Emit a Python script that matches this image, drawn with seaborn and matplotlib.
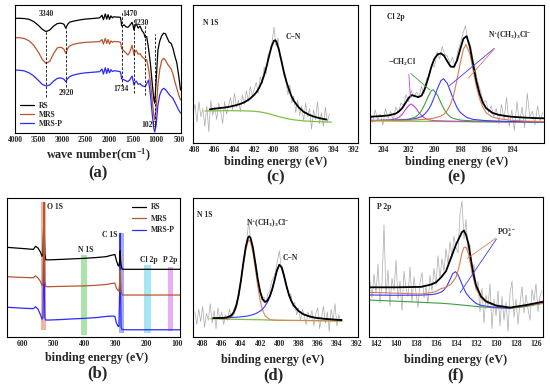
import numpy as np
import pandas as pd
import matplotlib
matplotlib.use("Agg")
import matplotlib.pyplot as plt
import seaborn as sns

# ---------------- (a) FTIR ----------------
a_wn = [4000, 3900, 3800, 3700, 3600, 3500, 3420, 3340, 3260, 3180,
        3100, 3020, 2960, 2920, 2880, 2840, 2780, 2700, 2600, 2500,
        2400, 2300, 2200, 2150, 2120, 2080, 2050, 2020, 1990, 1960,
        1930, 1900, 1850, 1800, 1760, 1745, 1734, 1720, 1680, 1640,
        1600, 1560, 1510, 1490, 1470, 1440, 1420, 1380, 1340, 1300,
        1260, 1230, 1200, 1160, 1120, 1080, 1050, 1029, 1000, 960,
        920, 880, 840, 800, 760, 720, 680, 640, 600, 560,
        520, 480]
a_rs = [89.6, 89.6, 89.4, 88.8, 87.0, 84.0, 81.0, 79.2, 80.5, 83.5,
        85.5, 85.8, 85.0, 81.8, 85.0, 86.5, 87.2, 87.8, 88.5, 89.0,
        89.3, 89.6, 90.0, 92.0, 88.5, 93.0, 89.0, 92.5, 88.8, 91.5,
        90.0, 90.8, 90.6, 90.5, 90.4, 88.0, 84.0, 83.5, 84.5, 83.0,
        82.5, 84.0, 86.5, 84.0, 80.5, 84.5, 85.0, 82.0, 83.5, 80.0,
        78.0, 74.5, 75.5, 66.0, 54.0, 38.0, 27.0, 23.2, 40.0, 65.0,
        72.0, 76.0, 78.0, 77.5, 74.0, 71.0, 70.0, 66.0, 60.0, 55.0,
        45.0, 33.6]
a_mrs = [74.5, 74.4, 73.8, 72.0, 68.5, 63.0, 57.5, 54.4, 56.0, 62.0,
         66.5, 67.0, 65.5, 62.2, 66.0, 68.0, 69.0, 69.8, 70.4, 70.8,
         71.0, 71.2, 71.4, 73.0, 69.5, 74.0, 70.0, 73.0, 69.5, 72.0,
         70.8, 71.5, 71.4, 71.2, 71.0, 69.0, 66.1, 65.5, 64.0, 62.5,
         61.0, 63.0, 68.5, 65.0, 61.0, 64.0, 64.5, 61.5, 62.0, 59.5,
         58.5, 57.0, 57.5, 50.0, 40.0, 25.0, 14.0, 10.2, 18.0, 38.0,
         50.0, 56.5, 58.3, 57.0, 54.0, 52.0, 50.0, 46.0, 40.0, 35.0,
         30.0, 25.8]
a_mrsp = [49.2, 49.0, 48.5, 47.0, 44.5, 41.0, 38.0, 36.7, 37.5, 40.5,
          42.7, 43.0, 42.0, 40.1, 42.5, 44.0, 45.0, 45.8, 46.5, 47.0,
          47.3, 47.6, 47.9, 50.0, 46.0, 51.0, 46.5, 50.5, 47.0, 49.5,
          48.0, 48.6, 48.5, 48.2, 47.8, 45.5, 42.5, 42.0, 41.5, 40.8,
          40.1, 41.5, 44.5, 41.0, 37.5, 40.0, 40.5, 38.0, 38.5, 37.0,
          36.5, 36.2, 38.5, 41.4, 30.0, 14.0, 4.0, 0.8, 6.0, 22.0,
          30.0, 33.5, 34.9, 34.0, 32.0, 30.0, 28.5, 27.0, 24.0, 21.0,
          18.0, 15.6]
a_marks = [3340, 2920, 1734, 1470, 1230, 1029]
a_mark_top = [80, 82, 95, 90, 84, 77]
a_mark_bot = [28, 36, 37, 31, 30, 5]
a_lab_x = [3340, 2900, 1740, 1548, 1313, 1143]
a_lab_y = [93, 31.5, 34, 93, 86, 6]

# ---------------- (b) XPS survey ----------------
b_ev = [650, 620, 590, 565, 558, 550, 542, 537, 534, 532, 531, 530, 528, 525,
        515, 480, 440, 400, 360, 330, 310, 302, 297, 292, 289, 286, 285, 284,
        282, 279, 270, 240, 200, 160, 130, 92]
b_rs = [64.5, 64.0, 63.5, 63.0, 65.3, 64.0, 61.0, 58.0, 60.0, 78.0, 90.0, 78.0, 60.0, 55.5,
        55.5, 55.8, 56.2, 56.6, 57.2, 57.8, 59.0, 59.3, 55.0, 51.5, 51.0, 56.0, 62.0, 56.0,
        52.0, 48.8, 48.7, 48.7, 48.7, 48.7, 48.7, 48.7]
b_mrs = [43.4, 43.0, 42.8, 42.6, 44.0, 42.5, 40.0, 37.0, 39.0, 75.0, 97.0, 75.0, 40.0, 36.2,
         36.2, 36.4, 36.6, 36.8, 37.2, 37.8, 38.6, 38.8, 35.0, 33.6, 33.0, 40.0, 48.0, 40.0,
         33.0, 30.3, 30.2, 30.2, 30.2, 30.2, 30.2, 30.2]
b_mrsp = [21.4, 21.0, 20.6, 20.4, 21.8, 20.0, 16.0, 12.8, 14.0, 50.0, 80.0, 50.0, 14.0, 12.2,
          12.2, 12.5, 13.0, 13.4, 14.0, 14.8, 15.1, 14.8, 10.0, 7.8, 7.5, 40.0, 74.6, 40.0,
          7.0, 5.4, 5.2, 5.2, 5.2, 5.2, 5.2, 5.2]
b_band_names = ['O 1S', 'N 1S', 'C 1S', 'Cl 2p', 'P 2p']
b_band_lo = [525, 392, 273, 186, 115]
b_band_hi = [540, 411, 289, 208, 130]
b_band_top = [0.974, 0.59, 0.746, 0.518, 0.506]
b_band_bot = [0.052, 0.014, 0.029, 0.029, 0.041]
b_band_col = ['#ee9c86', '#8fdc8f', '#8f8ff0', '#86e0ee', '#e295f0']
b_lab_x = [521, 421, 344, 221, 147]
b_lab_y = [93.5, 62.6, 73.4, 55.4, 55.4]

# ---------------- (c) N 1s, MRS ----------------
c_raw = [22, 28, 15, 30, 19, 25, 12, 27, 8, 31,
         20, 26, 17, 29, 23, 14, 30, 21, 27, 33,
         24, 36, 26, 31, 23, 35, 28, 38, 30, 41,
         34, 39, 44, 36, 48, 43, 55, 50, 64, 66,
         73, 84, 70, 76, 62, 60, 49, 47, 35, 42,
         29, 34, 22, 31, 20, 27, 16, 29, 19, 25,
         10, 24, 17, 30, 14, 22, 12, 26, 15, 21]
c_fit_x = [406.5, 406, 405.5, 405, 404.5, 404, 403.5, 403, 402.5, 402, 401.75, 401.5,
           401.25, 401, 400.75, 400.5, 400.25, 400, 399.85, 399.75, 399.5, 399.25, 399,
           398.75, 398.5, 398.25, 398, 397.5, 397, 396.5, 396, 395.5, 395, 394.7]
c_fit_y = [24.4, 24.9, 25.3, 25.7, 26.3, 27.1, 28.1, 29.5, 31.7, 34.9, 37.1, 40.1,
           44.0, 49.2, 55.6, 63.0, 70.0, 74.2, 74.4, 73.2, 67.5, 59.4, 51.4,
           44.5, 39.0, 34.2, 30.6, 25.8, 22.6, 20.6, 19.2, 18.2, 17.4, 17.0]
c_base_x = [407, 406, 405, 404, 403, 402, 401.5, 401, 400.5, 400, 399.5, 399, 398.5,
            398, 397, 396, 395, 394.2]
c_base_y = [23.2, 23.3, 23.4, 23.4, 23.3, 23.0, 22.6, 22.0, 21.1, 20.1, 19.1, 18.2, 17.4,
            16.8, 16.0, 15.6, 15.3, 15.1]

# ---------------- (d) N 1s, MRS-P ----------------
d_raw = [18, 9, 20, 11, 22, 7, 17, 12, 24, 10,
         19, 6, 21, 13, 18, 9, 16, 12, 20, 14,
         18, 22, 25, 34, 40, 52, 60, 69, 83, 70,
         66, 55, 52, 37, 33, 27, 29, 24, 31, 33,
         40, 43, 47, 55, 62, 50, 48, 41, 36, 29,
         31, 22, 25, 16, 21, 12, 20, 15, 9, 18,
         13, 19, 8, 17, 21, 6, 14, 22, 10, 18,
         4, 20, 12, 24, 8, 16, 11]
d_fit_x = [406.9, 406, 405.5, 405, 404.75, 404.5, 404.25, 404, 403.75, 403.5, 403.25,
           403.15, 403, 402.75, 402.5, 402.25, 402, 401.75, 401.5, 401.25, 401, 400.75,
           400.5, 400.25, 400, 399.75, 399.5, 399.25, 399, 398.75, 398.5, 398, 397.5,
           397, 396.5, 396, 395, 394, 393.5]
d_fit_y = [13.6, 13.7, 14.0, 15.5, 17.9, 22.3, 30.1, 40.9, 53.5, 64.9, 71.7,
           72.4, 71.3, 64.2, 53.1, 41.6, 32.6, 27.2, 25.2, 26.1, 29.2, 34.2,
           40.9, 47.9, 52.0, 50.0, 43.7, 36.5, 30.4, 25.9, 22.7, 18.7, 16.4,
           15.1, 14.2, 13.6, 12.9, 12.4, 12.2]
d_n_x = [406, 405.5, 405, 404.75, 404.5, 404.25, 404, 403.75, 403.5, 403.25, 403.15,
         403, 402.75, 402.5, 402.25, 402, 401.75, 401.5, 401, 400.5, 399, 397, 395, 393.5]
d_n_y = [12.9, 13.0, 14.3, 16.5, 20.9, 28.5, 39.1, 51.5, 62.6, 69.0, 69.6,
         68.2, 60.6, 48.9, 36.5, 26.4, 19.5, 15.4, 12.6, 12.1, 11.95, 11.8, 11.65, 11.5]
d_cn_x = [406.5, 406, 405, 404, 403.5, 403, 402.5, 402, 401.75, 401.5, 401.25, 401,
          400.75, 400.5, 400.25, 400, 399.75, 399.5, 399.25, 399, 398.75, 398.5, 398,
          397.5, 397, 396.5, 396, 395, 394, 393.5]
d_cn_y = [13.6, 13.7, 14.0, 14.5, 14.9, 15.6, 16.7, 18.6, 20.0, 22.1, 24.9, 28.8,
          34.1, 40.9, 47.9, 52.0, 50.0, 43.7, 36.5, 30.4, 25.9, 22.7, 18.7,
          16.4, 15.1, 14.2, 13.6, 12.9, 12.4, 12.2]
d_base_x = [407.2, 406, 404, 402, 400, 398, 396, 394, 393.5]
d_base_y = [13.1, 12.9, 12.65, 12.4, 12.0, 11.9, 11.8, 11.6, 11.5]

# ---------------- (e) Cl 2p ----------------
e_raw = [22, 15, 24, 17, 21, 13, 25, 18, 23, 16,
         26, 22, 29, 27, 35, 30, 38, 33, 37, 34,
         41, 36, 47, 48, 57, 55, 66, 61, 70, 64,
         63, 58, 62, 55, 66, 72, 79, 85, 74, 71,
         60, 52, 43, 37, 29, 31, 22, 27, 19, 25,
         14, 28, 17, 33, 12, 24, 9, 30, 15, 26,
         11, 36, 19, 23, 13, 27, 16, 22]
e_fit_x = [205, 204, 203.5, 203, 202.75, 202.5, 202.25, 202, 201.75, 201.5, 201.25, 201,
           200.75, 200.5, 200.25, 200, 199.75, 199.5, 199.25, 199, 198.75, 198.5, 198.25,
           198, 197.75, 197.5, 197.25, 197, 196.75, 196.5, 196.25, 196, 195.5, 195, 194.5,
           194, 193, 192, 191.5]
e_fit_y = [19.0, 19.6, 20.1, 21.3, 22.9, 25.3, 28.9, 32.7, 34.7, 34.0, 33.2, 34.3,
           39.2, 46.5, 54.9, 61.2, 64.2, 65.0, 63.2, 59.1, 55.4, 55.1, 59.7,
           68.0, 75.7, 77.4, 69.6, 57.2, 45.0, 35.8, 29.4, 25.3, 21.8, 20.4, 19.6,
           19.0, 18.4, 18.0, 17.9]
e_r_x = [205, 203, 202, 201, 200.5, 200, 199.5, 199.25, 199, 198.75, 198.5, 198.25, 198,
         197.75, 197.55, 197.25, 197, 196.75, 196.5, 196.25, 196, 195.5, 195, 194, 193, 191.5]
e_r_y = [16.3, 16.4, 16.5, 17.0, 17.4, 18.1, 19.5, 21.0, 23.7, 28.1, 35.1, 45.8, 57.9,
         68.1, 71.4, 64.6, 52.9, 41.1, 32.2, 26.0, 22.0, 18.8, 17.6, 16.4, 15.9, 15.5]
e_b_x = [205, 203, 202, 201.5, 201, 200.75, 200.5, 200.25, 200, 199.75, 199.5, 199.3, 199,
         198.75, 198.5, 198.25, 198, 197.5, 197, 196, 195, 193, 191.5]
e_b_y = [16.3, 16.6, 17.0, 17.6, 19.1, 21.0, 23.8, 27.8, 33.6, 39.8, 45.1, 46.6, 43.2,
         37.2, 31.0, 25.7, 22.2, 18.5, 17.1, 16.2, 15.8, 15.4, 15.3]
e_g_x = [205, 203, 202, 201.5, 201.25, 201, 200.75, 200.5, 200.25, 200.1, 199.75, 199.5,
         199.25, 199, 198.75, 198.5, 198, 197, 195, 191.5]
e_g_y = [16.2, 16.6, 17.3, 18.7, 20.5, 23.5, 28.1, 33.4, 37.9, 38.6, 34.5, 29.2,
         24.5, 21.0, 18.8, 17.7, 16.6, 16.0, 15.6, 15.2]
e_m_x = [205, 204, 203.5, 203, 202.75, 202.5, 202.25, 202, 201.8, 201.5, 201.25, 201,
         200.75, 200.5, 200, 199, 197, 191.5]
e_m_y = [16.2, 16.4, 16.6, 17.5, 18.7, 20.8, 24.1, 27.2, 28.3, 26.0, 22.6, 19.8,
         18.0, 16.9, 16.2, 15.9, 15.5, 15.1]
e_base_x = [205, 191.5]
e_base_y = [16.0, 15.0]

# ---------------- (f) P 2p ----------------
f_raw = [40, 28, 45, 31, 52, 24, 38, 80, 30, 48,
         22, 42, 33, 55, 27, 40, 19, 47, 35, 29,
         50, 25, 43, 31, 21, 39, 46, 28, 36, 24,
         44, 33, 49, 37, 58, 42, 56, 47, 63, 52,
         68, 57, 72, 64, 60, 88, 97, 70, 84, 62,
         66, 45, 52, 33, 40, 18, 35, 10, 30, 22,
         38, 6, 27, 15, 33, 8, 29, 12, 25, 4,
         31, 40, 14, 27, 9, 24, 36, 17, 30, 20,
         12, 34, 26, 38, 18, 29, 33]
f_fit_x = [142.7, 140, 137.5, 136.5, 136, 135.5, 135, 134.5, 134, 133.7, 133.4, 133.2,
           133, 132.75, 132.5, 132.25, 132, 131.5, 131, 130, 128.6, 127, 125.3]
f_fit_y = [35.5, 35.5, 35.8, 37.5, 39.0, 42.5, 47.0, 56.5, 66.0, 70.5, 75.0, 76.0,
           73.0, 66.5, 55.0, 45.0, 37.0, 29.0, 25.5, 22.5, 21.0, 22.8, 25.2]
f_pa_y = [31.9, 31.3, 30.7, 31.7, 32.5, 34.6, 35.5, 37.8, 42.7, 50.0, 60.1, 64.0,
          64.1, 59.7, 50.2, 41.5, 34.9, 27.9, 24.8, 22.2, 20.9, 22.2, 24.2]
f_pb_x = [142.7, 140, 137.5, 136.5, 136, 135.5, 135.2, 134.9, 134.6, 134.35, 134.05, 133.8,
          133.5, 133.3, 133, 132.6, 132, 131.5, 130.5, 129.5, 128.6, 127, 125.3]
f_pb_y = [30.0, 29.8, 29.9, 30.3, 30.8, 32.0, 33.6, 36.5, 41.0, 45.0, 46.7, 44.5,
          39.5, 35.9, 31.5, 27.8, 24.0, 22.6, 21.5, 20.9, 20.6, 22.4, 25.0]
f_base_x = [142.7, 140, 137.5, 135.5, 134.5, 133.5, 132.5, 131.5, 130, 128.6, 127, 125.3]
f_base_y = [26.4, 25.6, 24.8, 24.1, 23.6, 22.9, 22.2, 21.5, 20.9, 20.5, 21.8, 24.0]

# ---------------- style ----------------
sns.set_style("white")
plt.rcParams['font.family'] = ['Liberation Serif', 'DejaVu Serif']
plt.rcParams['font.weight'] = 'bold'
plt.rcParams['mathtext.fontset'] = 'custom'
plt.rcParams['mathtext.rm'] = 'Liberation Serif:bold'
plt.rcParams['mathtext.it'] = 'Liberation Serif:bold'
plt.rcParams['mathtext.bf'] = 'Liberation Serif:bold'

W, H = 550, 387
fig = plt.figure(figsize=(5.5, 3.87), dpi=100)


def box(x0, y0, x1, y1):
    # pixel box -> figure axes
    return fig.add_axes([x0 / W, 1 - y1 / H, (x1 - x0) / W, (y1 - y0) / H])


def style(ax, xlim, ticks):
    ax.set_xlim(*xlim)
    ax.set_ylim(0, 100)
    ax.set_xticks(ticks)
    ax.set_xticklabels([str(t) for t in ticks], fontsize=5.5, fontweight='bold')
    ax.set_yticks([])
    ax.tick_params(axis='x', direction='in', length=2.5, width=0.7, pad=2)
    ax.set_xlabel('')
    ax.set_ylabel('')
    for s in ax.spines.values():
        s.set_color('black')
        s.set_linewidth(0.8)


def line(ax, x, y, color, lw, label=None):
    sns.lineplot(x=x, y=y, ax=ax, color=color, lw=lw, estimator=None,
                 label=label, legend=False)


def bottom_text(xc, yc, xlabel, letter, ly):
    fig.text(xc / W, 1 - yc / H, xlabel, ha='center', va='center', fontsize=8.7, fontweight='bold')
    fig.text(xc / W, 1 - ly / H, letter, ha='center', va='center', fontsize=12, fontweight='bold')


raw_col = '#aaaaaa'
fs = 5.5
legend_kw = dict(frameon=False, fontsize=fs, handlelength=1.8, handletextpad=0.6,
                 borderaxespad=0.3)

# (a)
ax = box(15, 5, 181, 133)
line(ax, a_wn, a_rs, 'black', 0.9, 'RS')
line(ax, a_wn, a_mrs, '#b8562e', 0.9, 'MRS')
line(ax, a_wn, a_mrsp, '#2a2aff', 0.9, 'MRS-P')
ax.vlines(a_marks, a_mark_bot, a_mark_top, colors='black', linestyles=(0, (3, 2)), lw=0.6)
for m, lx, ly in zip(a_marks, a_lab_x, a_lab_y):
    ax.text(lx, ly, str(m), fontsize=fs, ha='center', va='center')
style(ax, (4000, 470), [4000, 3500, 3000, 2500, 2000, 1500, 1000, 500])
ax.legend(loc='lower left', labelspacing=0.1, **legend_kw)
bottom_text(98, 155, 'wave number(cm$^{-1}$)', '(a)', 173)

# (b) -- MRS-P drawn first so the O 1s spike shows the darker traces on top
ax = box(7, 198, 180, 337)
for lo, hi, bt, tp, col in zip(b_band_lo, b_band_hi, b_band_bot, b_band_top, b_band_col):
    ax.axvspan(lo, hi, ymin=bt, ymax=tp, color=col, alpha=0.75, lw=0, zorder=0)
line(ax, b_ev, b_mrsp, '#2a2aff', 0.9, 'MRS-P')
line(ax, b_ev, b_rs, 'black', 0.9, 'RS')
line(ax, b_ev, b_mrs, '#b8562e', 0.9, 'MRS')
for name, lx, ly in zip(b_band_names, b_lab_x, b_lab_y):
    ax.text(lx, ly, name, fontsize=fs, ha='left', va='center')
style(ax, (650, 92), [600, 500, 400, 300, 200, 100])
h, l = ax.get_legend_handles_labels()
order = [l.index('RS'), l.index('MRS'), l.index('MRS-P')]
ax.legend([h[i] for i in order], [l[i] for i in order], loc='upper right',
          labelspacing=0.45, **legend_kw)
bottom_text(97, 358, 'binding energy (eV)', '(b)', 373)

# (c)
ax = box(193, 5, 358, 143)
line(ax, np.linspace(408.2, 394.4, len(c_raw)), c_raw, raw_col, 0.5)
line(ax, c_base_x, c_base_y, '#7cc242', 0.9)
line(ax, c_fit_x, c_fit_y, 'black', 1.3)
ax.text(407.2, 87, 'N 1S', fontsize=fs, ha='left', va='center')
ax.text(398.8, 76.8, 'C\u2212N', fontsize=fs, ha='left', va='center')
style(ax, (408.2, 391.5), list(range(408, 391, -2)))
bottom_text(276, 162, 'binding energy (eV)', '(c)', 177)

# (d)
ax = box(193, 198, 358, 337)
line(ax, np.linspace(408.8, 393.6, len(d_raw)), d_raw, raw_col, 0.5)
line(ax, d_base_x, d_base_y, '#7cc242', 0.9)
line(ax, d_n_x, d_n_y, '#e0845a', 0.8)
line(ax, d_cn_x, d_cn_y, '#3a3aff', 0.8)
line(ax, d_fit_x, d_fit_y, 'black', 1.3)
ax.text(408.6, 87.8, 'N 1S', fontsize=fs, ha='left', va='center')
ax.text(401.2, 81.8, 'N$^{+}$(CH$_{3}$)$_{3}$Cl$^{-}$', fontsize=fs, ha='center', va='center')
ax.text(399.7, 56.8, 'C\u2212N', fontsize=fs, ha='left', va='center')
style(ax, (409, 391.8), list(range(408, 391, -2)))
bottom_text(273, 360, 'binding energy (eV)', '(d)', 375)

# (e)
ax = box(370, 5, 544, 143)
line(ax, np.linspace(205, 191.6, len(e_raw)), e_raw, raw_col, 0.5)
line(ax, e_base_x, e_base_y, '#7cc242', 0.9)
line(ax, e_m_x, e_m_y, '#d040d0', 0.8)
line(ax, e_g_x, e_g_y, '#3f9f3f', 0.8)
line(ax, e_b_x, e_b_y, '#3a3aff', 0.8)
line(ax, e_r_x, e_r_y, '#dd7a50', 0.8)
line(ax, e_fit_x, e_fit_y, 'black', 1.3)
ax.text(203.7, 91.3, 'Cl 2p', fontsize=fs, ha='left', va='center')
ax.text(203.6, 58.7, '$-$CH$_{2}$Cl', fontsize=fs, ha='left', va='center')
ax.text(195.85, 78.3, 'N$^{+}$(CH$_{3}$)$_{3}$Cl$^{-}$', fontsize=fs, ha='left', va='center')
for tx, ty, col in [(201.85, 31.2, '#d040d0'), (200.2, 37.2, '#3f9f3f')]:
    ax.annotate('', xy=(tx, ty), xytext=(202.0, 51.7),
                arrowprops=dict(arrowstyle='-', color=col, lw=0.6))
for tx, ty, col in [(199.0, 40.3, '#3a3aff'), (197.5, 45.6, '#dd7a50')]:
    ax.annotate('', xy=(tx, ty), xytext=(195.2, 69.8),
                arrowprops=dict(arrowstyle='-', color=col, lw=0.6))
style(ax, (205, 191.5), list(range(204, 193, -2)))
bottom_text(457, 162, 'binding energy (eV)', '(e)', 177)

# (f)
ax = box(369, 197, 543, 337)
line(ax, np.linspace(142.6, 125.4, len(f_raw)), f_raw, raw_col, 0.5)
line(ax, f_base_x, f_base_y, '#3f9f3f', 0.8)
line(ax, f_pb_x, f_pb_y, '#3a3aff', 0.8)
line(ax, f_fit_x, f_pa_y, '#dd7a50', 0.8)
line(ax, f_fit_x, f_fit_y, 'black', 1.3)
ax.text(141.9, 93, 'P 2p', fontsize=fs, ha='left', va='center')
ax.text(129.9, 75, 'PO$_{4}^{3-}$', fontsize=fs, ha='left', va='center')
for tx, ty, col in [(133.1, 55, '#dd7a50'), (133.75, 30, '#3a3aff')]:
    ax.annotate('', xy=(tx, ty), xytext=(129.8, 71.6),
                arrowprops=dict(arrowstyle='-', color=col, lw=0.6))
style(ax, (142.7, 125.3), list(range(142, 125, -2)))
bottom_text(456, 360, 'binding energy (eV)', '(f)', 375)

fig.savefig('out.png', dpi=100)
